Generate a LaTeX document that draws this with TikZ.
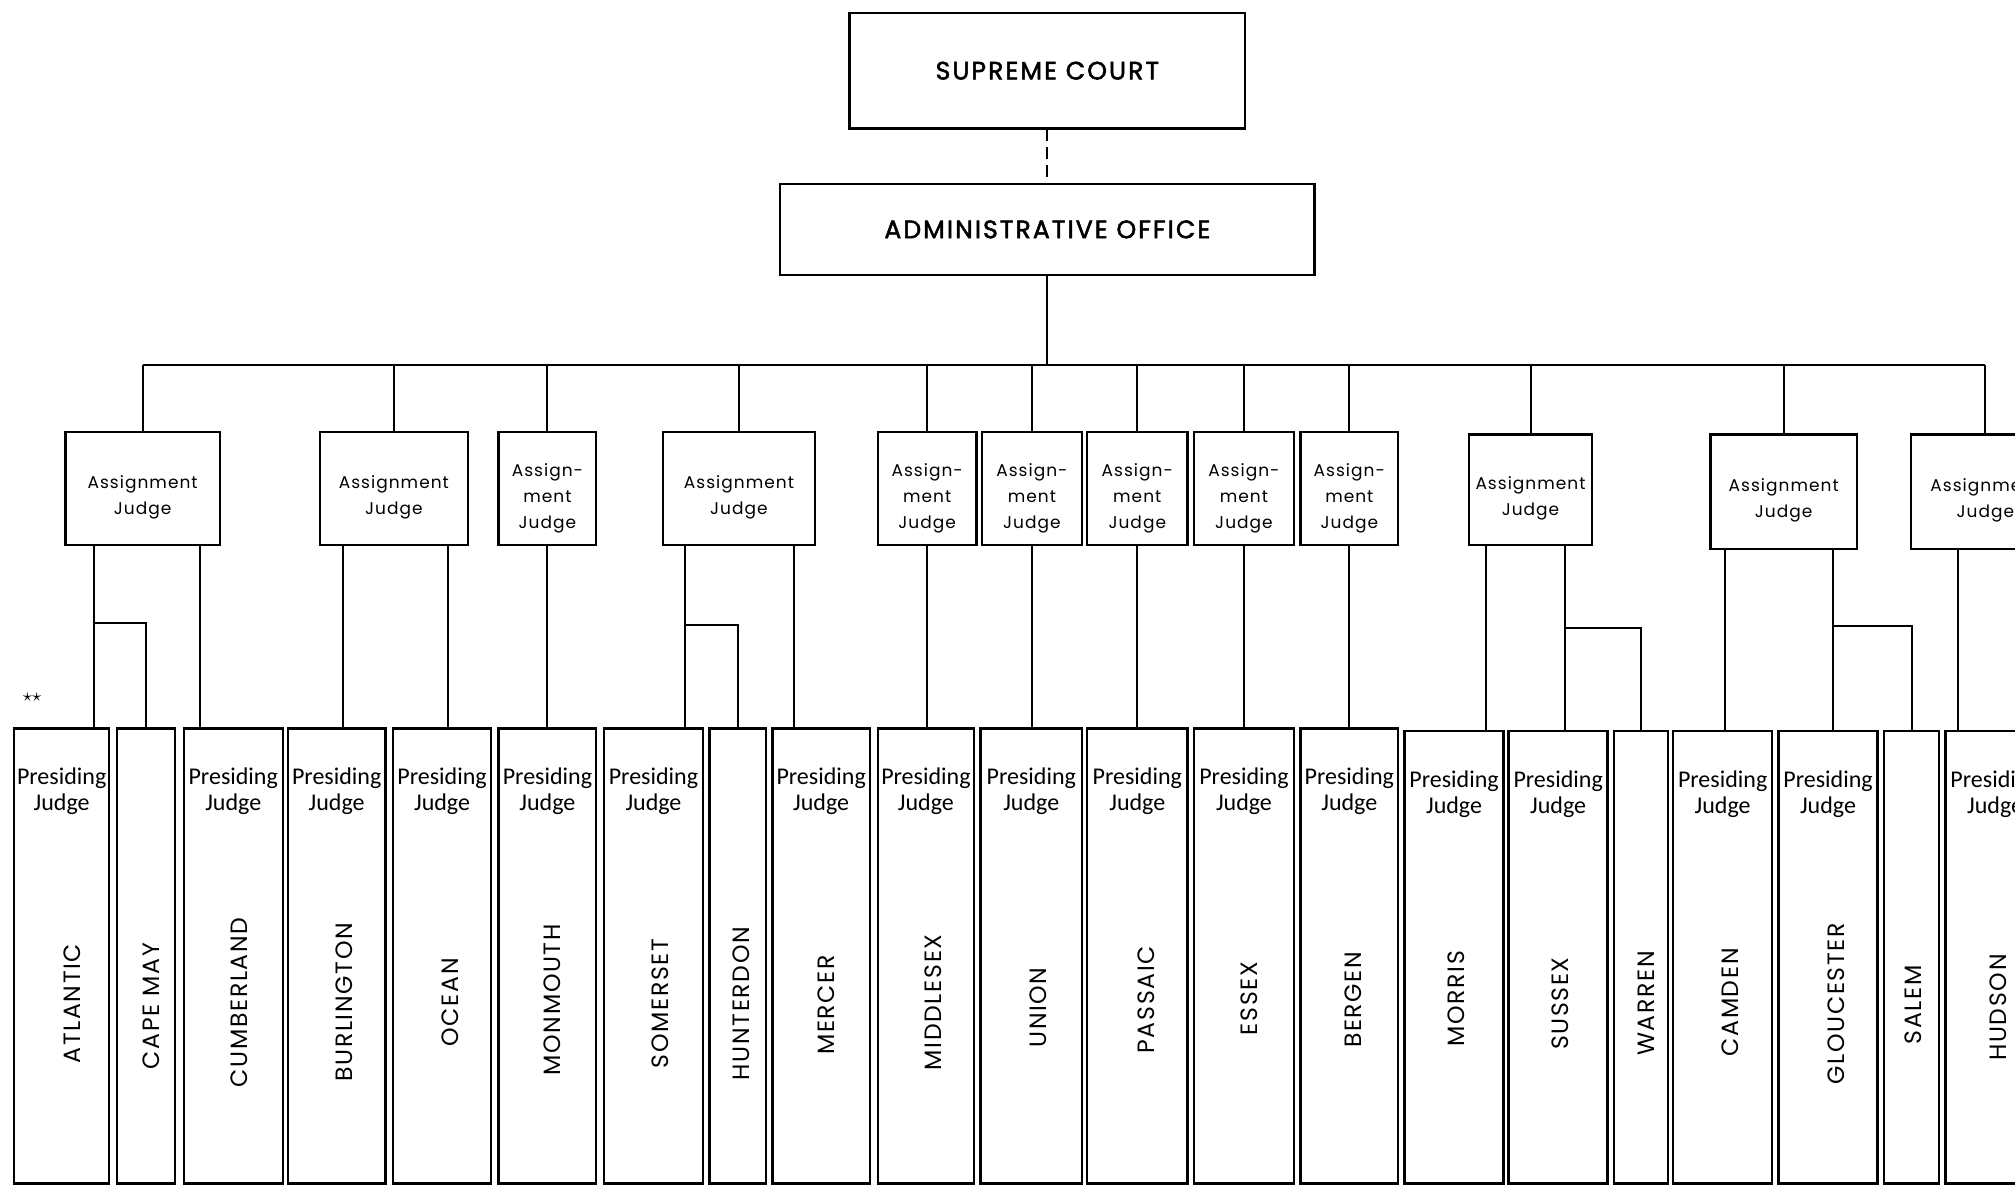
\documentclass[tikz,border=0pt]{standalone}
\usepackage{fontspec}
\usepackage{tikz}
\usetikzlibrary{positioning}
\setmainfont{Carlito}
\newfontfamily\titlefont[LetterSpace=8,FakeBold=2]{Poppins}
\newfontfamily\countyfont[LetterSpace=7]{Poppins}
\newfontfamily\assignfont[LetterSpace=6]{Poppins}

\begin{document}
\begin{tikzpicture}[x=0.6425pt, y=-0.6425pt,
    box/.style 2 args={draw, line width=1.2pt, inner sep=0pt, outer sep=0pt,
      minimum width=#1*0.6425pt, minimum height=#2*0.6425pt},
    office/.style={font=\titlefont\fontsize{12.6}{15}\selectfont},
    assign/.style={align=center, inner sep=0pt, font=\assignfont\fontsize{8.5}{13.2}\selectfont},
    pj/.style={align=center, inner sep=0pt, font=\fontsize{12}{13}\selectfont},
    cty/.style={rotate=90, inner sep=0pt, text depth=0pt, font=\countyfont\fontsize{11.8}{13}\selectfont},
    link/.style={line width=1pt}]
    \useasboundingbox (0,0) rectangle (1568,923);
    \clip (0,0) rectangle (1568,923);

    % top of the chart
    \node[box={308}{90}, office] (court) at (815,55) {SUPREME COURT};
    \node[box={416}{71}, office] (admin) at (815,178.5) {ADMINISTRATIVE OFFICE};
    \coordinate (bus) at (815,284);

    % assignment judges
    \node[box={120}{88}] (aj1) at (111,380) {};
    \node[box={115}{88}] (aj2) at (306.5,380) {};
    \node[box={76}{88}] (aj3) at (426,380) {};
    \node[box={118}{88}] (aj4) at (575,380) {};
    \node[box={77}{88}] (aj5) at (721.5,380) {};
    \node[box={78}{88}] (aj6) at (803,380) {};
    \node[box={78}{88}] (aj7) at (885,380) {};
    \node[box={78}{88}] (aj8) at (968,380) {};
    \node[box={76}{88}] (aj9) at (1050,380) {};
    \node[box={96}{86}] (aj10) at (1191,381) {};
    \node[box={114}{89}] (aj11) at (1388,382.5) {};
    \node[box={116}{89}] (aj12) at (1545,382.5) {};

    \node[assign] (aj1t) at ([yshift=-4.5pt]aj1.center) {Assignment\\Judge};
    \node[assign] (aj2t) at ([yshift=-4.5pt]aj2.center) {Assignment\\Judge};
    \node[assign] (aj3t) at ([yshift=-5pt]aj3.center) {Assign-\\ment\\Judge};
    \node[assign] (aj4t) at ([yshift=-4.5pt]aj4.center) {Assignment\\Judge};
    \node[assign] (aj5t) at ([yshift=-5pt]aj5.center) {Assign-\\ment\\Judge};
    \node[assign] (aj6t) at ([yshift=-5pt]aj6.center) {Assign-\\ment\\Judge};
    \node[assign] (aj7t) at ([yshift=-5pt]aj7.center) {Assign-\\ment\\Judge};
    \node[assign] (aj8t) at ([yshift=-5pt]aj8.center) {Assign-\\ment\\Judge};
    \node[assign] (aj9t) at ([yshift=-5pt]aj9.center) {Assign-\\ment\\Judge};
    \node[assign] (aj10t) at ([yshift=-4.5pt]aj10.center) {Assignment\\Judge};
    \node[assign] (aj11t) at ([yshift=-4.5pt]aj11.center) {Assignment\\Judge};
    \node[assign] (aj12t) at ([yshift=-4.5pt]aj12.center) {Assignment\\Judge};

    % counties
    \node[box={74}{354}] (atl) at (48,744) {};
    \node[box={45}{354}] (cape) at (113.5,744) {};
    \node[box={77}{354}] (cumb) at (181.5,744) {};
    \node[box={76}{354}] (burl) at (262,744) {};
    \node[box={76}{354}] (ocean) at (344,744) {};
    \node[box={76}{354}] (monm) at (426,744) {};
    \node[box={77}{354}] (somer) at (508.5,744) {};
    \node[box={44}{354}] (hunt) at (574,744) {};
    \node[box={76}{354}] (merc) at (639,744) {};
    \node[box={75}{354}] (midd) at (720.5,744) {};
    \node[box={79}{354}] (union) at (802.5,744) {};
    \node[box={78}{354}] (pass) at (885,744) {};
    \node[box={78}{354}] (essex) at (968,744) {};
    \node[box={76}{354}] (berg) at (1050,744) {};
    \node[box={77}{352}] (morr) at (1131.5,745) {};
    \node[box={77}{352}] (suss) at (1212.5,745) {};
    \node[box={42}{352}] (warr) at (1277,745) {};
    \node[box={77}{352}] (camd) at (1340.5,745) {};
    \node[box={77}{352}] (glou) at (1422.5,745) {};
    \node[box={43}{352}] (salem) at (1487.5,745) {};
    \node[box={77}{352}] (huds) at (1552.5,745) {};

    \node[pj, below=19.5pt of atl.north] (atlPJ) {Presiding\\Judge};
    \node[pj, below=19.5pt of cumb.north] (cumbPJ) {Presiding\\Judge};
    \node[pj, below=19.5pt of burl.north] (burlPJ) {Presiding\\Judge};
    \node[pj, below=19.5pt of ocean.north] (oceanPJ) {Presiding\\Judge};
    \node[pj, below=19.5pt of monm.north] (monmPJ) {Presiding\\Judge};
    \node[pj, below=19.5pt of somer.north] (somerPJ) {Presiding\\Judge};
    \node[pj, below=19.5pt of merc.north] (mercPJ) {Presiding\\Judge};
    \node[pj, below=19.5pt of midd.north] (middPJ) {Presiding\\Judge};
    \node[pj, below=19.5pt of union.north] (unionPJ) {Presiding\\Judge};
    \node[pj, below=19.5pt of pass.north] (passPJ) {Presiding\\Judge};
    \node[pj, below=19.5pt of essex.north] (essexPJ) {Presiding\\Judge};
    \node[pj, below=19.5pt of berg.north] (bergPJ) {Presiding\\Judge};
    \node[pj, below=19.5pt of morr.north] (morrPJ) {Presiding\\Judge};
    \node[pj, below=19.5pt of suss.north] (sussPJ) {Presiding\\Judge};
    \node[pj, below=19.5pt of camd.north] (camdPJ) {Presiding\\Judge};
    \node[pj, below=19.5pt of glou.north] (glouPJ) {Presiding\\Judge};
    \node[pj, below=19.5pt of huds.north] (hudsPJ) {Presiding\\Judge};

    \node[cty] (atlName) at (56,781) {ATLANTIC};
    \node[cty] (capeName) at (118,783) {CAPE MAY};
    \node[cty] (cumbName) at (186,780) {CUMBERLAND};
    \node[cty] (burlName) at (268,780) {BURLINGTON};
    \node[cty] (oceanName) at (350,780) {OCEAN};
    \node[cty] (monmName) at (430,778) {MONMOUTH};
    \node[cty] (somerName) at (514,781) {SOMERSET};
    \node[cty] (huntName) at (577,781) {HUNTERDON};
    \node[cty] (mercName) at (643,782) {MERCER};
    \node[cty] (middName) at (726,780) {MIDDLESEX};
    \node[cty] (unionName) at (808,784) {UNION};
    \node[cty] (passName) at (892,778) {PASSAIC};
    \node[cty] (essexName) at (972,777) {ESSEX};
    \node[cty] (bergName) at (1053,778) {BERGEN};
    \node[cty] (morrName) at (1133,777) {MORRIS};
    \node[cty] (sussName) at (1214,781) {SUSSEX};
    \node[cty] (warrName) at (1281,781) {WARREN};
    \node[cty] (camdName) at (1346,780) {CAMDEN};
    \node[cty] (glouName) at (1429,781) {GLOUCESTER};
    \node[cty] (salemName) at (1489,782) {SALEM};
    \node[cty] (hudsName) at (1555,784) {HUDSON};

    \node[font=\fontsize{9}{10}\selectfont] (stars) at (25,543) {$\star\star$};

    % office to assignment judges
    \draw[link, dash pattern=on 6pt off 3pt] (court) -- (admin);
    \draw[link] (admin) -- (bus);
    \draw[link] (aj1.north |- bus) -- (aj12.north |- bus);
    \draw[link] (aj1.north |- bus) -- (aj1.north) (aj2.north |- bus) -- (aj2.north)
        (aj3.north |- bus) -- (aj3.north) (aj4.north |- bus) -- (aj4.north)
        (aj5.north |- bus) -- (aj5.north) (aj6.north |- bus) -- (aj6.north)
        (aj7.north |- bus) -- (aj7.north) (aj8.north |- bus) -- (aj8.north)
        (aj9.north |- bus) -- (aj9.north) (aj10.north |- bus) -- (aj10.north)
        (aj11.north |- bus) -- (aj11.north) (aj12.north |- bus) -- (aj12.north);

    % assignment judges to counties
    \coordinate (atlTap) at (73,485);
    \draw[link] (aj1.south -| atlTap) -- (atl.north -| atlTap);
    \draw[link] (atlTap) -| (cape.north);
    \coordinate (cumbTap) at (156,485);
    \draw[link] (aj1.south -| cumbTap) -- (cumb.north -| cumbTap);
    \coordinate (burlTap) at (267,485);
    \draw[link] (aj2.south -| burlTap) -- (burl.north -| burlTap);
    \coordinate (oceanTap) at (349,485);
    \draw[link] (aj2.south -| oceanTap) -- (ocean.north -| oceanTap);
    \draw[link] (aj3.south) -- (monm.north -| aj3.south);
    \coordinate (somerTap) at (533,486);
    \draw[link] (aj4.south -| somerTap) -- (somer.north -| somerTap);
    \draw[link] (somerTap) -| (hunt.north);
    \coordinate (mercTap) at (618,486);
    \draw[link] (aj4.south -| mercTap) -- (merc.north -| mercTap);
    \draw[link] (aj5.south) -- (midd.north -| aj5.south);
    \draw[link] (aj6.south) -- (union.north -| aj6.south);
    \draw[link] (aj7.south) -- (pass.north -| aj7.south);
    \draw[link] (aj8.south) -- (essex.north -| aj8.south);
    \draw[link] (aj9.south) -- (berg.north -| aj9.south);
    \coordinate (morrTap) at (1156,489);
    \draw[link] (aj10.south -| morrTap) -- (morr.north -| morrTap);
    \coordinate (sussTap) at (1218,489);
    \draw[link] (aj10.south -| sussTap) -- (suss.north -| sussTap);
    \draw[link] (sussTap) -| (warr.north);
    \coordinate (camdTap) at (1342,487);
    \draw[link] (aj11.south -| camdTap) -- (camd.north -| camdTap);
    \coordinate (glouTap) at (1426,487);
    \draw[link] (aj11.south -| glouTap) -- (glou.north -| glouTap);
    \draw[link] (glouTap) -| (salem.north);
    \coordinate (hudsTap) at (1524,487);
    \draw[link] (aj12.south -| hudsTap) -- (huds.north -| hudsTap);
\end{tikzpicture}
\end{document}
